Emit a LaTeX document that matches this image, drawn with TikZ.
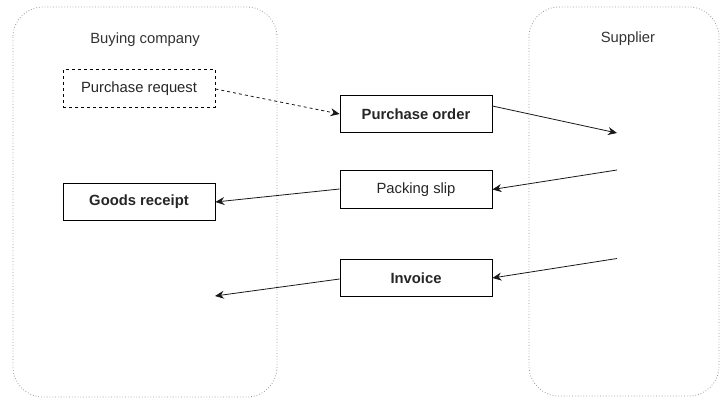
\documentclass[tikz,border=0pt]{standalone}
\usepackage{fontspec}
\setmainfont{Liberation Sans}
\usetikzlibrary{arrows.meta}
\begin{document}
\begin{tikzpicture}[x=1pt,y=-1pt,
  container/.style={draw=gray!80, dotted, line width=0.8pt, rounded corners=30pt},
  docbox/.style={draw=black, line width=0.8pt, minimum width=152pt, minimum height=37.5pt, inner sep=0pt, font=\fontsize{14.8}{17}\selectfont, text=black!85},
  boldbox/.style={docbox, font=\fontsize{14.8}{17}\selectfont\bfseries},
  flow/.style={draw=black!90, line width=0.8pt, -{Stealth[length=9pt,width=8pt,inset=3pt]}},
  lbl/.style={font=\fontsize{14.8}{17}\selectfont, text=black!80}]
\useasboundingbox (0,0) rectangle (720,398);
% containers
\draw[container] (13,7) rectangle (277,397);
\draw[container] (529,7) rectangle (719,396);
\node[lbl] (buyer) at (145,40) {Buying company};
\node[lbl] (supplier) at (628,39) {Supplier};
% boxes
\node[docbox, dashed] (preq) at (139,88.5) {Purchase request};
\node[boldbox] (po) at (416,114) {Purchase order};
\node[docbox] (ps) at (416,189.5) {Packing slip};
\node[boldbox] (gr) at (139,202) {Goods receipt};
\node[boldbox] (inv) at (416,278) {Invoice};
% free ends
\coordinate (s1) at (617,133);
\coordinate (s2) at (617,170);
\coordinate (s3) at (617,258.5);
\coordinate (b1) at (215,296);
% connectors
\draw[flow, dashed] (preq.east) ++(0,0.5) -- (po.west);
\draw[flow] ([yshift=8pt]po.east) -- (s1);
\draw[flow] (s2) -- (ps.east);
\draw[flow] ([yshift=0.5pt]ps.west) -- (gr.east);
\draw[flow] (s3) -- (inv.east);
\draw[flow] ([yshift=-1pt]inv.west) -- (b1);
\end{tikzpicture}
\end{document}
